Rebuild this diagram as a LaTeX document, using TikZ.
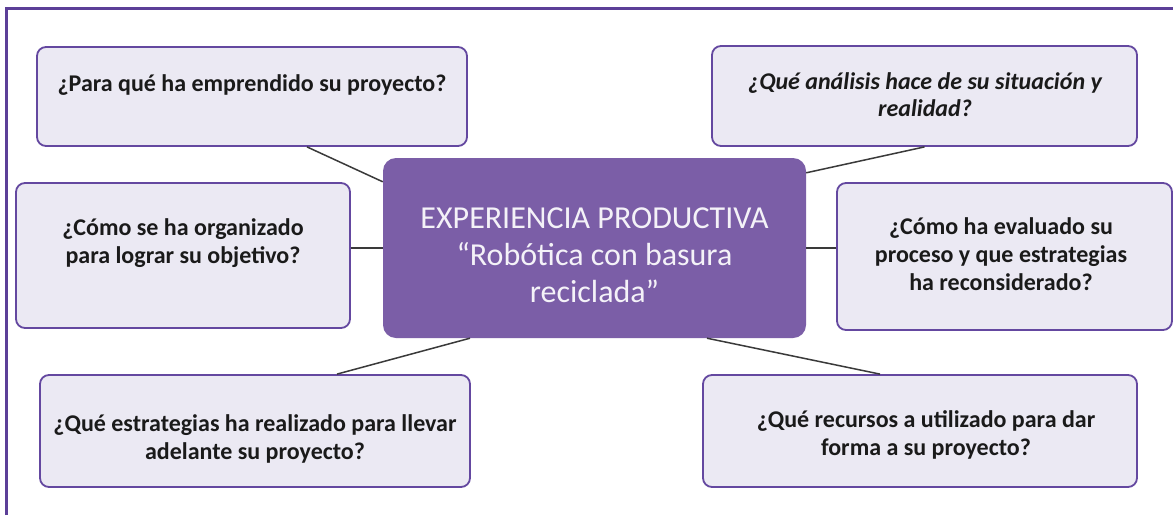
\documentclass[tikz,border=0pt]{standalone}
\usepackage{fontspec}
\setmainfont{Carlito}
\definecolor{framec}{HTML}{5C3F98}
\definecolor{boxborder}{HTML}{6448A0}
\definecolor{boxfill}{HTML}{EBE9F3}
\definecolor{centerfill}{HTML}{7B5EA7}
\definecolor{centertext}{HTML}{F4F2F8}
\definecolor{linkc}{HTML}{3A3A3A}
\definecolor{qtextc}{HTML}{1A1A1A}
\begin{document}
\begin{tikzpicture}[x=1pt,y=-1pt,
  qbox/.style={rectangle, draw=boxborder, line width=1.8pt, fill=boxfill, rounded corners=9pt, inner sep=0pt},
  cbox/.style={rectangle, fill=centerfill, rounded corners=13pt, inner sep=0pt},
  qtext/.style={font=\bfseries\fontsize{24}{28}\selectfont, text=qtextc, align=center, anchor=north, inner sep=0pt},
  ctext/.style={font=\fontsize{32}{37}\selectfont, text=centertext, align=center, anchor=north, inner sep=0pt},
  link/.style={draw=linkc, line width=1.5pt}]
\useasboundingbox (0,0) rectangle (1173,515);
\fill[white] (0,0) rectangle (1173,515);
\draw[framec, line width=3pt] (6,515) -- (6,8) -- (1173,8);

% boxes
\node[qbox, minimum width=430pt, minimum height=99pt] (tl) at (252,96.5) {};
\node[qbox, minimum width=425pt, minimum height=100pt] (tr) at (924.5,96) {};
\node[qbox, minimum width=334pt, minimum height=145pt] (ml) at (183,255.5) {};
\node[qbox, minimum width=335pt, minimum height=147pt] (mr) at (1004.5,256.5) {};
\node[qbox, minimum width=430pt, minimum height=112pt] (bl) at (255,431) {};
\node[qbox, minimum width=434pt, minimum height=112pt] (br) at (920,431) {};
\node[cbox, minimum width=423pt, minimum height=180pt] (c) at (594.5,248) {};

% connectors
\draw[link] ([xshift=55pt]tl.south) -- ([yshift=-24pt]c.north west);
\draw[link] (ml.east |- c.west) -- (c.west);
\draw[link] (tr.south) -- ([yshift=-15pt]c.north east);
\draw[link] (c.east) -- (mr.west |- c.east);
\draw[link] ([xshift=-124.5pt]c.south) -- ([xshift=82pt]bl.north);
\draw[link] ([xshift=112.5pt]c.south) -- ([xshift=-40pt]br.north);

% texts
\node[qtext] (ttl) at (252,71.4) {\strut ¿Para qué ha emprendido su proyecto?};
\node[qtext, font=\bfseries\itshape\fontsize{24}{27}\selectfont] (ttr) at (925,70.8) {\strut ¿Qué análisis hace de su situación y\\realidad?};
\node[qtext] (tml) at (183,215.4) {\strut ¿Cómo se ha organizado\\para lograr su objetivo?};
\node[qtext] (tmr) at (1001,214.4) {\strut ¿Cómo ha evaluado su\\proceso y que estrategias\\ha reconsiderado?};
\node[qtext] (tbl) at (255,411.4) {\strut ¿Qué estrategias ha realizado para llevar\\adelante su proyecto?};
\node[qtext] (tbr) at (926,407.4) {\strut ¿Qué recursos a utilizado para dar\\forma a su proyecto?};
\node[ctext] (tc) at (594.5,202.1) {\strut EXPERIENCIA PRODUCTIVA\\“Robótica con basura\\reciclada”};
\end{tikzpicture}
\end{document}
